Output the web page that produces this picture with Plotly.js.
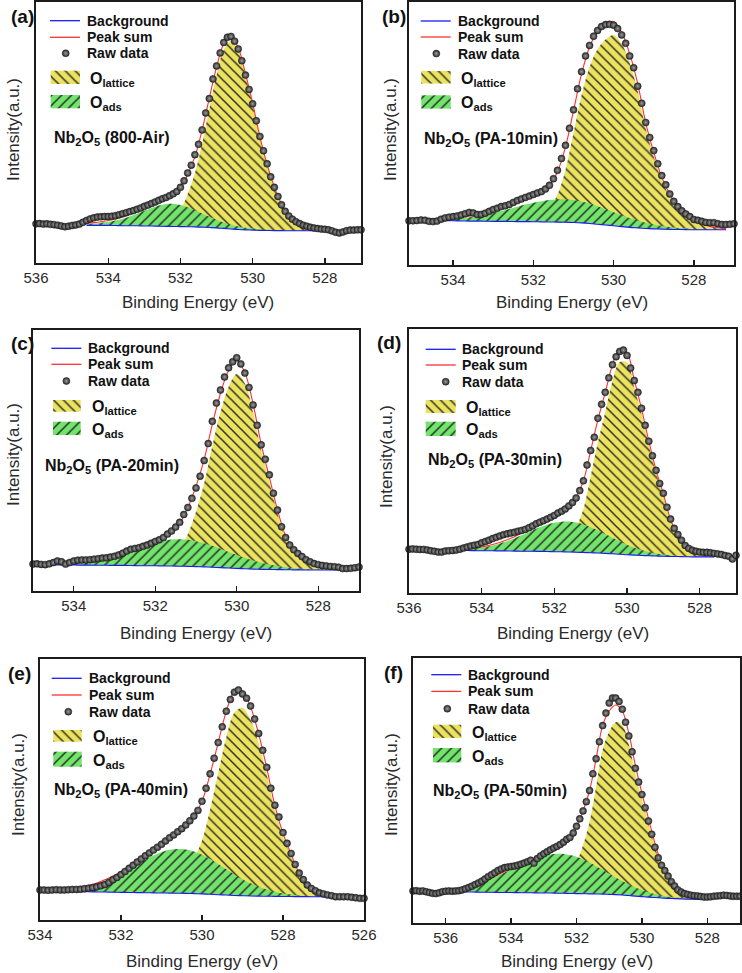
<!DOCTYPE html>
<html>
<head>
<meta charset="utf-8">
<script src="https://cdn.plot.ly/plotly-3.0.1.min.js"></script>
<style>
  html, body { margin: 0; padding: 0; background: #ffffff; }
  #chart { width: 742px; height: 973px; }
</style>
</head>
<body>
<div id="chart"></div>
<script>
// O 1s XPS spectra of Nb2O5 samples with a two-component peak fit.
// Intensity is in arbitrary units (0-100 over each panel's height).
// Raw scans use a 0.1 eV step, fitted curves a 0.2 eV step.

// ---------- (a) Nb2O5 (800-Air)
const scanA = [536.0, 527.0];
const fitA = [534.6, 528.0];
const rawA = [15.0, 15.1, 14.9, 15.0, 14.8, 14.7, 14.5, 14.2, 13.9, 14.1,
  14.4, 14.6, 14.9, 15.6, 16.3, 16.9, 17.3, 17.6, 17.7, 17.8,
  17.8, 17.9, 18.1, 18.5, 18.9, 19.3, 19.7, 20.1, 20.6, 21.1,
  21.7, 22.2, 22.8, 23.4, 24.0, 24.6, 25.1, 25.8, 26.5, 27.4,
  29.0, 31.5, 34.5, 37.5, 41.5, 45.5, 51.0, 57.5, 63.0, 70.5,
  75.5, 80.5, 84.5, 86.5, 86.8, 85.0, 82.0, 77.5, 72.0, 66.5,
  61.0, 54.5, 48.5, 43.0, 38.0, 33.0, 29.0, 25.5, 22.3, 19.8,
  18.0, 16.8, 15.8, 15.1, 14.5, 14.1, 13.7, 13.4, 13.2, 13.0,
  12.9, 12.7, 12.3, 11.8, 11.5, 11.9, 12.4, 12.6, 12.6, 12.7, 12.7];
const bgA = [14.4, 14.4, 14.4, 14.4, 14.35, 14.3, 14.3, 14.25, 14.2, 14.15,
  14.1, 14.05, 14.0, 13.95, 13.9, 13.85, 13.75, 13.6, 13.45, 13.25,
  13.05, 12.85, 12.7, 12.6, 12.5, 12.45, 12.4, 12.4, 12.35, 12.35,
  12.35, 12.35, 12.35, 12.35];
const latticeA = [0.3, 0.35, 0.4, 0.5, 0.6, 0.7, 0.85, 1.0, 1.2, 1.5,
  1.9, 2.6, 3.8, 6.5, 12.5, 20.5, 32.0, 45.5, 58.5, 68.5,
  72.0, 68.5, 59.0, 48.0, 35.5, 25.0, 16.5, 10.0, 5.8, 3.4,
  2.0, 1.2, 0.7, 0.4];
const adsA = [0.53, 0.71, 0.98, 1.37, 1.92, 2.65, 3.56, 4.63, 5.79, 6.94,
  7.92, 8.55, 8.68, 8.29, 7.46, 6.38, 5.2, 4.08, 3.08, 2.26,
  1.62, 1.16, 0.83, 0.61, 0.45, 0.34, 0.27, 0.21, 0.17, 0.14,
  0.12, 0.1, 0.09, 0.08];

// ---------- (b) Nb2O5 (PA-10min)
const scanB = [535.1, 527.0];
const fitB = [534.4, 527.2];
const rawB = [16.8, 16.8, 16.9, 17.1, 17.0, 16.6, 16.5, 16.7, 17.4, 17.9,
  18.2, 18.4, 18.6, 19.0, 19.5, 20.0, 19.8, 19.2, 19.2, 19.7,
  20.4, 21.1, 21.6, 22.2, 22.5, 23.0, 23.8, 24.5, 25.1, 25.7,
  26.2, 26.8, 27.4, 27.9, 28.9, 30.3, 32.8, 36.0, 40.5, 45.5,
  52.0, 59.0, 67.0, 73.5, 79.5, 83.5, 87.0, 89.2, 90.7, 91.4,
  91.5, 91.2, 89.9, 87.5, 84.3, 79.5, 75.0, 68.0, 61.5, 54.2,
  48.5, 43.5, 38.5, 34.0, 30.5, 27.0, 24.2, 22.2, 20.6, 19.4,
  18.4, 17.3, 17.0, 16.6, 16.2, 16.1, 16.1, 15.7, 15.4, 15.4, 15.5, 15.7];
const bgB = [16.8, 16.8, 16.8, 16.75, 16.7, 16.7, 16.65, 16.6, 16.6, 16.55,
  16.5, 16.5, 16.45, 16.4, 16.35, 16.3, 16.25, 16.15, 16.0, 15.8,
  15.5, 15.2, 14.9, 14.6, 14.3, 14.1, 13.9, 13.75, 13.65, 13.55,
  13.5, 13.45, 13.4, 13.4, 13.4, 13.4, 13.4];
const latticeB = [0.2, 0.25, 0.3, 0.35, 0.45, 0.55, 0.7, 0.9, 1.1, 1.4,
  1.8, 2.3, 3.0, 3.9, 5.5, 10.5, 20.0, 34.0, 48.5, 59.5,
  66.5, 70.5, 72.5, 69.5, 62.5, 52.0, 38.0, 27.5, 18.5, 12.5,
  8.0, 5.0, 3.2, 2.0, 1.2, 0.7, 0.4];
const adsB = [0.33, 0.49, 0.72, 1.02, 1.41, 1.9, 2.49, 3.17, 3.94, 4.77,
  5.63, 6.46, 7.23, 7.87, 8.35, 8.64, 8.69, 8.52, 8.13, 7.57,
  6.85, 6.05, 5.2, 4.35, 3.55, 2.82, 2.18, 1.64, 1.2, 0.86,
  0.6, 0.41, 0.27, 0.17, 0.1, 0.06, 0.04];

// ---------- (c) Nb2O5 (PA-20min)
const scanC = [535.0, 527.0];
const fitC = [534.6, 527.4];
const rawC = [10.3, 10.4, 10.2, 10.1, 10.4, 10.9, 11.5, 11.2, 10.3, 10.9,
  11.5, 11.8, 11.9, 11.9, 12.0, 12.2, 12.4, 12.6, 12.7, 13.0,
  13.3, 13.8, 14.5, 15.3, 16.0, 16.3, 16.6, 17.1, 17.6, 18.3,
  19.0, 19.6, 20.5, 21.8, 23.0, 24.5, 26.3, 29.3, 32.0, 35.5,
  39.5, 44.0, 50.0, 56.5, 65.0, 72.0, 77.0, 82.0, 85.5, 87.8,
  89.4, 87.0, 83.5, 78.0, 71.3, 63.5, 56.0, 50.5, 44.5, 37.5,
  31.0, 24.6, 20.5, 17.6, 15.8, 14.4, 13.2, 12.0, 11.2, 10.5,
  10.1, 9.8, 9.6, 9.4, 9.3, 9.1, 8.6, 8.6, 8.7, 8.9, 9.2];
const bgC = [10.0, 10.0, 9.95, 9.95, 9.9, 9.9, 9.85, 9.85, 9.8, 9.8,
  9.75, 9.7, 9.7, 9.65, 9.6, 9.55, 9.5, 9.45, 9.35, 9.25,
  9.1, 8.95, 8.8, 8.65, 8.5, 8.4, 8.3, 8.25, 8.2, 8.15,
  8.1, 8.1, 8.05, 8.05, 8.05, 8.05, 8.05];
const latticeC = [0.1, 0.1, 0.1, 0.15, 0.15, 0.2, 0.2, 0.25, 0.3, 0.35,
  0.45, 0.6, 0.8, 1.1, 1.6, 3.0, 6.2, 12.4, 21.0, 32.0,
  46.5, 59.5, 69.5, 74.5, 71.0, 60.0, 45.5, 33.5, 21.5, 12.0,
  7.0, 4.4, 2.8, 1.8, 1.1, 0.7, 0.45];
const adsC = [0.28, 0.43, 0.64, 0.94, 1.34, 1.86, 2.5, 3.28, 4.17, 5.15,
  6.19, 7.23, 8.21, 9.07, 9.73, 10.16, 10.3, 10.16, 9.73, 9.07,
  8.21, 7.23, 6.19, 5.15, 4.17, 3.28, 2.5, 1.86, 1.34, 0.94,
  0.64, 0.43, 0.28, 0.17, 0.1, 0.06, 0.03];

// ---------- (d) Nb2O5 (PA-30min)
const scanD = [536.0, 527.0];
const fitD = [534.6, 527.6];
const rawD = [16.6, 16.7, 16.6, 16.5, 16.5, 16.3, 16.0, 15.8, 15.5, 15.5,
  15.9, 16.0, 16.1, 16.3, 16.6, 17.0, 17.4, 17.8, 18.1, 18.4,
  19.0, 19.5, 20.0, 20.6, 21.1, 21.6, 22.1, 22.4, 22.7, 23.0,
  23.4, 23.7, 24.1, 24.7, 25.4, 26.2, 26.8, 27.4, 28.0, 28.7,
  29.4, 30.3, 31.0, 31.8, 33.0, 34.3, 36.0, 38.8, 42.5, 48.5,
  54.0, 59.0, 66.2, 71.5, 76.0, 81.5, 86.5, 89.5, 91.5, 92.0,
  90.0, 85.2, 80.5, 76.0, 70.0, 63.5, 57.5, 52.0, 46.5, 41.5,
  37.8, 32.5, 28.0, 24.5, 22.2, 20.0, 18.0, 16.9, 16.2, 15.8,
  15.5, 15.4, 15.4, 15.2, 15.0, 14.8, 14.6, 14.2, 13.9, 12.9, 14.3];
const bgD = [16.1, 16.1, 16.05, 16.0, 16.0, 15.95, 15.95, 15.9, 15.85, 15.8,
  15.8, 15.75, 15.7, 15.65, 15.6, 15.55, 15.45, 15.35, 15.25, 15.15,
  15.0, 14.85, 14.7, 14.5, 14.35, 14.2, 14.1, 14.0, 13.9, 13.85,
  13.8, 13.75, 13.7, 13.7, 13.7, 13.7];
const latticeD = [0.1, 0.15, 0.2, 0.25, 0.3, 0.35, 0.45, 0.55, 0.7, 0.85,
  1.05, 1.3, 1.7, 2.3, 3.3, 5.5, 9.5, 16.5, 29.0, 42.0,
  53.5, 65.5, 72.8, 72.8, 63.5, 53.5, 42.0, 31.5, 23.0, 13.5,
  7.8, 4.2, 2.3, 1.4, 0.9, 0.6];
const adsD = [0.32, 0.52, 0.8, 1.2, 1.73, 2.42, 3.28, 4.29, 5.45, 6.69,
  7.94, 9.13, 10.16, 10.94, 11.4, 11.49, 11.21, 10.58, 9.67, 8.55,
  7.31, 6.06, 4.86, 3.77, 2.83, 2.05, 1.44, 0.98, 0.65, 0.41,
  0.25, 0.15, 0.09, 0.05, 0.03, 0.02];

// ---------- (e) Nb2O5 (PA-40min)
const scanE = [534.0, 526.0];
const fitE = [534.0, 526.0];
const rawE = [11.5, 11.5, 11.4, 11.5, 11.6, 11.5, 11.5, 11.6, 11.7, 11.7,
  11.8, 12.0, 12.2, 12.4, 12.7, 13.1, 13.6, 14.4, 15.4, 16.3,
  17.4, 18.6, 19.8, 21.0, 22.2, 23.4, 24.6, 25.7, 26.8, 27.9,
  29.0, 30.3, 31.5, 32.6, 33.8, 35.0, 36.4, 38.0, 39.8, 42.0,
  45.5, 50.5, 56.0, 62.0, 68.0, 74.0, 80.0, 84.5, 87.3, 88.1,
  86.6, 85.0, 82.0, 77.0, 71.5, 65.0, 58.5, 50.5, 44.0, 39.5,
  33.5, 29.4, 25.5, 21.3, 18.0, 15.5, 13.4, 12.1, 11.2, 10.4,
  10.0, 9.6, 9.3, 8.9, 8.9, 8.9, 8.9, 8.7, 8.5, 8.3, 8.3];
const bgE = [11.2, 11.1, 11.0, 10.95, 10.9, 10.85, 10.8, 10.75, 10.7, 10.65,
  10.6, 10.55, 10.5, 10.45, 10.4, 10.35, 10.3, 10.25, 10.2, 10.1,
  10.0, 9.85, 9.7, 9.55, 9.4, 9.3, 9.2, 9.15, 9.1, 9.05,
  9.0, 9.0, 8.95, 8.95, 8.9, 8.9, 8.85, 8.8, 8.75, 8.7, 8.65];
const latticeE = [0.1, 0.1, 0.15, 0.2, 0.25, 0.3, 0.35, 0.4, 0.5, 0.6,
  0.75, 0.9, 1.1, 1.4, 1.8, 2.4, 4.5, 6.5, 9.5, 13.5,
  20.5, 32.5, 46.5, 60.5, 70.0, 72.0, 67.5, 58.5, 46.5, 33.0,
  23.0, 15.5, 8.5, 4.2, 2.0, 1.0, 0.5, 0.25, 0.12, 0.06, 0.03];
const adsE = [0.13, 0.22, 0.38, 0.61, 0.96, 1.45, 2.13, 3.04, 4.18, 5.57,
  7.18, 8.96, 10.82, 12.64, 14.29, 15.64, 16.57, 16.98, 16.85, 16.17,
  15.01, 13.5, 11.75, 9.89, 8.06, 6.35, 4.85, 3.57, 2.55, 1.77,
  1.18, 0.77, 0.48, 0.29, 0.17, 0.1, 0.06, 0.03, 0.02, 0.01, 0.0];

// ---------- (f) Nb2O5 (PA-50min)
const scanF = [537.0, 527.0];
const fitF = [535.4, 528.2];
const rawF = [12.1, 12.2, 12.0, 12.1, 11.8, 11.5, 11.2, 11.1, 11.4, 11.8,
  12.0, 12.1, 12.0, 12.1, 12.2, 12.5, 12.9, 13.4, 13.9, 14.5,
  15.1, 15.8, 16.6, 17.5, 18.2, 19.0, 19.8, 20.4, 20.9, 21.1,
  21.3, 21.5, 21.8, 22.2, 22.6, 23.1, 23.7, 22.6, 24.3, 25.3,
  26.1, 26.9, 27.6, 28.3, 28.9, 29.6, 30.5, 31.6, 32.3, 34.0,
  36.5, 39.3, 42.3, 45.8, 50.0, 56.3, 62.0, 68.4, 74.5, 79.2,
  83.0, 84.9, 84.9, 83.6, 80.7, 75.8, 70.6, 64.6, 58.4, 53.2,
  48.5, 43.5, 38.5, 33.5, 28.6, 24.6, 21.8, 19.8, 17.7, 15.6,
  14.0, 12.5, 11.7, 11.1, 10.8, 10.5, 10.3, 10.2, 10.0, 9.8,
  9.8, 9.9, 10.1, 10.2, 10.3, 10.5, 10.4, 10.2, 10.1, 10.1, 10.1];
const bgF = [11.7, 11.7, 11.65, 11.6, 11.6, 11.55, 11.5, 11.5, 11.45, 11.4,
  11.4, 11.35, 11.3, 11.3, 11.25, 11.2, 11.15, 11.1, 11.05, 11.0,
  10.95, 10.9, 10.8, 10.7, 10.55, 10.35, 10.15, 9.95, 9.75, 9.6,
  9.45, 9.3, 9.2, 9.1, 9.0, 8.95, 8.9];
const latticeF = [0.05, 0.05, 0.1, 0.1, 0.15, 0.2, 0.2, 0.25, 0.3, 0.35,
  0.45, 0.55, 0.7, 1.2, 2.0, 3.5, 5.5, 11.5, 18.3, 27.2,
  40.5, 54.5, 61.4, 65.1, 64.2, 57.0, 46.1, 36.6, 27.9, 19.1,
  12.1, 7.6, 4.2, 2.2, 1.4, 1.0, 0.7];
const adsF = [0.6, 1.3, 2.5, 3.9, 5.2, 6.5, 7.6, 8.7, 9.8, 10.9,
  11.9, 12.95, 13.86, 14.52, 14.86, 14.86, 14.52, 13.86, 12.93, 11.8,
  10.51, 9.15, 7.79, 6.47, 5.26, 4.17, 3.24, 2.46, 1.82, 1.32,
  0.93, 0.64, 0.44, 0.29, 0.18, 0.11, 0.07];

// Panel text and x-axis limits
const panelTags = ['(a)', '(b)', '(c)', '(d)', '(e)', '(f)'];
const sampleNames = ['800-Air', 'PA-10min', 'PA-20min', 'PA-30min', 'PA-40min', 'PA-50min'];
const axisLimits = [[536, 527], [535.1, 527], [535, 527], [536, 527], [534, 526], [537, 527]];

// ---------- page geometry (pixels)
const W = 742, H = 973;
const FONT = 'Liberation Sans, Arial, Helvetica, sans-serif';
const INK = '#1c1c1c';

// box: [left, top, right, bottom]; legend offsets are measured from the box's top-left corner
const frames = [
  { box: [36, 2, 361, 263], tag: [22, 16], ytitle: [14, 130], xtitleY: 302,
    leg: { line: [14, 44], tx: 49, rows: [18.7, 35.3, 51.3], mx: 29.7, sw: [14.7, 44], lat: [68.7, 82], ads: [93, 106.3], ox: 52.3, sample: [15.7, 134.7] } },
  { box: [409, 2, 734, 265], tag: [394, 16], ytitle: [391, 130], xtitleY: 302,
    leg: { line: [11.7, 41.7], tx: 46.7, rows: [19, 35, 51.6], mx: 27.3, sw: [12.3, 41.7], lat: [69, 81.6], ads: [93.3, 106.6], ox: 50, sample: [13.4, 135] } },
  { box: [33, 330, 359, 591], tag: [22, 343], ytitle: [13, 455], xtitleY: 633,
    leg: { line: [18.4, 48.4], tx: 53.4, rows: [18.3, 34.3, 51], mx: 33.4, sw: [20, 47.7], lat: [70, 81.7], ads: [91.7, 105], ox: 56.7, sample: [10, 135] } },
  { box: [409, 329, 736, 593], tag: [389, 342], ytitle: [386, 457], xtitleY: 633,
    leg: { line: [16.7, 46.7], tx: 51, rows: [20.3, 36, 52.7], mx: 36.7, sw: [16.7, 46.7], lat: [71, 84], ads: [92.7, 107], ox: 55, sample: [16.7, 129.3] } },
  { box: [40, 659, 364, 920], tag: [19, 673], ytitle: [18, 785], xtitleY: 961,
    leg: { line: [11.7, 41.7], tx: 46.7, rows: [19.3, 36, 52.7], mx: 28.3, sw: [13.3, 41.7], lat: [71, 82.7], ads: [92.7, 107.7], ox: 51, sample: [11.7, 129.3] } },
  { box: [413, 658, 740, 923], tag: [393, 672], ytitle: [391, 785], xtitleY: 961,
    leg: { line: [18.3, 48.3], tx: 53.3, rows: [16.7, 33.4, 50.7], mx: 34.3, sw: [20, 48.3], lat: [66.7, 80], ads: [90, 104.4], ox: 56.6, sample: [18.3, 131.7] } }
];

const spectra = [
  { scan: scanA, fit: fitA, raw: rawA, bg: bgA, lat: latticeA, ads: adsA },
  { scan: scanB, fit: fitB, raw: rawB, bg: bgB, lat: latticeB, ads: adsB },
  { scan: scanC, fit: fitC, raw: rawC, bg: bgC, lat: latticeC, ads: adsC },
  { scan: scanD, fit: fitD, raw: rawD, bg: bgD, lat: latticeD, ads: adsD },
  { scan: scanE, fit: fitE, raw: rawE, bg: bgE, lat: latticeE, ads: adsE },
  { scan: scanF, fit: fitF, raw: rawF, bg: bgF, lat: latticeF, ads: adsF }
];

// ---------- styles
const YELLOW = '#ebe35f', GREEN = '#72e46c';
const latticePattern = { shape: '\\', bgcolor: YELLOW, fgcolor: '#1e1e1e', fgopacity: 0.9, size: 7, solidity: 0.22 };
const adsPattern = { shape: '/', bgcolor: GREEN, fgcolor: '#1e1e1e', fgopacity: 0.9, size: 7, solidity: 0.22 };
const rawMarker = { size: 7, color: '#2a2a2a', gradient: { type: 'radial', color: '#9c9c9c' }, line: { width: 0.5, color: '#1a1a1a' } };

// energy axis of a scan, descending from `from` to `to`
function energies(from, to, step) {
  const n = Math.round((from - to) / step);
  const out = [];
  for (let i = 0; i <= n; i++) out.push(+(from - i * step).toFixed(2));
  return out;
}

const traces = [];
const annotations = [];
const layout = {
  width: W, height: H,
  margin: { l: 0, r: 0, t: 0, b: 0, pad: 0 },
  paper_bgcolor: '#ffffff', plot_bgcolor: 'rgba(0,0,0,0)',
  showlegend: false,
  font: { family: FONT, color: INK },
  annotations: annotations
};

const px = (x) => x / W;
const py = (y) => 1 - y / H;

spectra.forEach((s, i) => {
  const k = i + 1, o = i + 7;
  const fr = frames[i], lg = fr.leg;
  const [bx0, by0, bx1, by1] = fr.box;
  const xa = k === 1 ? 'x' : 'x' + k;
  const ya = k === 1 ? 'y' : 'y' + k;
  const xo = 'x' + o, yo = 'y' + o;

  const eRaw = energies(s.scan[0], s.scan[1], 0.1);
  const eFit = energies(s.fit[0], s.fit[1], 0.2);
  if (eRaw.length !== s.raw.length || eFit.length !== s.bg.length ||
      eFit.length !== s.lat.length || eFit.length !== s.ads.length) {
    console.error('length mismatch in panel', panelTags[i]);
  }
  const latticeTop = s.bg.map((b, j) => b + s.lat[j]);
  const adsTop = s.bg.map((b, j) => b + s.ads[j]);
  const peakSum = s.bg.map((b, j) => b + s.lat[j] + s.ads[j]);

  const hidden = { width: 0, shape: 'spline', color: 'rgba(0,0,0,0)' };
  const base = { x: eFit, y: s.bg, xaxis: xa, yaxis: ya, type: 'scatter', mode: 'lines', line: hidden, hoverinfo: 'skip' };
  traces.push(Object.assign({}, base));
  traces.push({ x: eFit, y: latticeTop, xaxis: xa, yaxis: ya, type: 'scatter', mode: 'lines', line: hidden,
    fill: 'tonexty', fillcolor: YELLOW, fillpattern: latticePattern, name: 'O lattice', hoverinfo: 'skip' });
  traces.push(Object.assign({}, base));
  traces.push({ x: eFit, y: adsTop, xaxis: xa, yaxis: ya, type: 'scatter', mode: 'lines', line: hidden,
    fill: 'tonexty', fillcolor: GREEN, fillpattern: adsPattern, name: 'O ads', hoverinfo: 'skip' });
  traces.push({ x: eFit, y: s.bg, xaxis: xa, yaxis: ya, type: 'scatter', mode: 'lines',
    line: { width: 1.1, shape: 'spline', color: '#1a1aff' }, name: 'Background', hoverinfo: 'skip' });
  traces.push({ x: eFit, y: peakSum, xaxis: xa, yaxis: ya, type: 'scatter', mode: 'lines',
    line: { width: 1.1, shape: 'spline', color: '#ff3030' }, name: 'Peak sum', hoverinfo: 'skip' });
  traces.push({ x: eRaw, y: s.raw, xaxis: xa, yaxis: ya, type: 'scatter', mode: 'markers',
    marker: rawMarker, cliponaxis: false, name: 'Raw data', hoverinfo: 'skip' });

  // legend keys, drawn in the box's own pixel frame
  const lk = { xaxis: xo, yaxis: yo, type: 'scatter', hoverinfo: 'skip' };
  traces.push(Object.assign({}, lk, { x: lg.line, y: [lg.rows[0], lg.rows[0]], mode: 'lines', line: { width: 1.3, color: '#1a1aff' } }));
  traces.push(Object.assign({}, lk, { x: lg.line, y: [lg.rows[1], lg.rows[1]], mode: 'lines', line: { width: 1.3, color: '#ff3030' } }));
  traces.push(Object.assign({}, lk, { x: [lg.mx], y: [lg.rows[2]], mode: 'markers', marker: rawMarker }));
  const rect = (x0, x1, y0, y1) => ({ x: [x0, x1, x1, x0, x0], y: [y0, y0, y1, y1, y0] });
  const noEdge = { width: 0, color: 'rgba(0,0,0,0)' };
  traces.push(Object.assign({}, lk, rect(lg.sw[0], lg.sw[1], lg.lat[0], lg.lat[1]),
    { mode: 'lines', line: noEdge, fill: 'toself', fillcolor: YELLOW, fillpattern: latticePattern }));
  traces.push(Object.assign({}, lk, rect(lg.sw[0], lg.sw[1], lg.ads[0], lg.ads[1]),
    { mode: 'lines', line: noEdge, fill: 'toself', fillcolor: GREEN, fillpattern: adsPattern }));

  // axes
  const frameLine = { showline: true, mirror: true, linecolor: INK, linewidth: 1.8, showgrid: false, zeroline: false, fixedrange: true };
  layout['xaxis' + (k === 1 ? '' : k)] = Object.assign({}, frameLine, {
    domain: [px(bx0), px(bx1)], anchor: ya, range: axisLimits[i], autorange: false,
    ticks: 'inside', ticklen: 5, tickwidth: 1.3, tickcolor: INK, tick0: 0, dtick: 2,
    tickfont: { family: FONT, size: 15, color: '#2a2a2a' }
  });
  layout['yaxis' + (k === 1 ? '' : k)] = Object.assign({}, frameLine, {
    domain: [py(by1), py(by0)], anchor: xa, range: [0, 100], autorange: false,
    ticks: '', showticklabels: false
  });
  layout['xaxis' + o] = { overlaying: xa, anchor: yo, range: [0, bx1 - bx0], autorange: false, visible: false, fixedrange: true };
  layout['yaxis' + o] = { overlaying: ya, anchor: xo, range: [by1 - by0, 0], autorange: false, visible: false, fixedrange: true };

  // text
  const bold = (size) => ({ family: FONT, size: size, color: '#111111', weight: 'bold' });
  const note = (text, x, y, font) => annotations.push({
    text: text, x: x, y: y, xref: xo, yref: yo, xanchor: 'left', yanchor: 'middle',
    showarrow: false, font: font });
  note('Background', lg.tx, lg.rows[0], bold(14));
  note('Peak sum', lg.tx, lg.rows[1], bold(14));
  note('Raw data', lg.tx, lg.rows[2], bold(14));
  note('O<sub>lattice</sub>', lg.ox, (lg.lat[0] + lg.lat[1]) / 2 + 2, bold(16));
  note('O<sub>ads</sub>', lg.ox, (lg.ads[0] + lg.ads[1]) / 2 + 2, bold(16));
  note('Nb<sub>2</sub>O<sub>5</sub> (' + sampleNames[i] + ')', lg.sample[0], lg.sample[1] + 2, bold(16));

  annotations.push({ text: panelTags[i], x: px(fr.tag[0]), y: py(fr.tag[1]), xref: 'paper', yref: 'paper',
    xanchor: 'center', yanchor: 'middle', showarrow: false, font: bold(19) });
  annotations.push({ text: 'Binding Energy (eV)', x: px((bx0 + bx1) / 2), y: py(fr.xtitleY), xref: 'paper', yref: 'paper',
    xanchor: 'center', yanchor: 'middle', showarrow: false, font: { family: FONT, size: 17, color: '#2a2a2a' } });
  annotations.push({ text: 'Intensity(a.u.)', x: px(fr.ytitle[0]), y: py(fr.ytitle[1]), xref: 'paper', yref: 'paper',
    xanchor: 'center', yanchor: 'middle', textangle: -90, showarrow: false, font: { family: FONT, size: 17, color: '#2a2a2a' } });
});

Plotly.newPlot('chart', traces, layout, { staticPlot: true, displayModeBar: false });
</script>
</body>
</html>
